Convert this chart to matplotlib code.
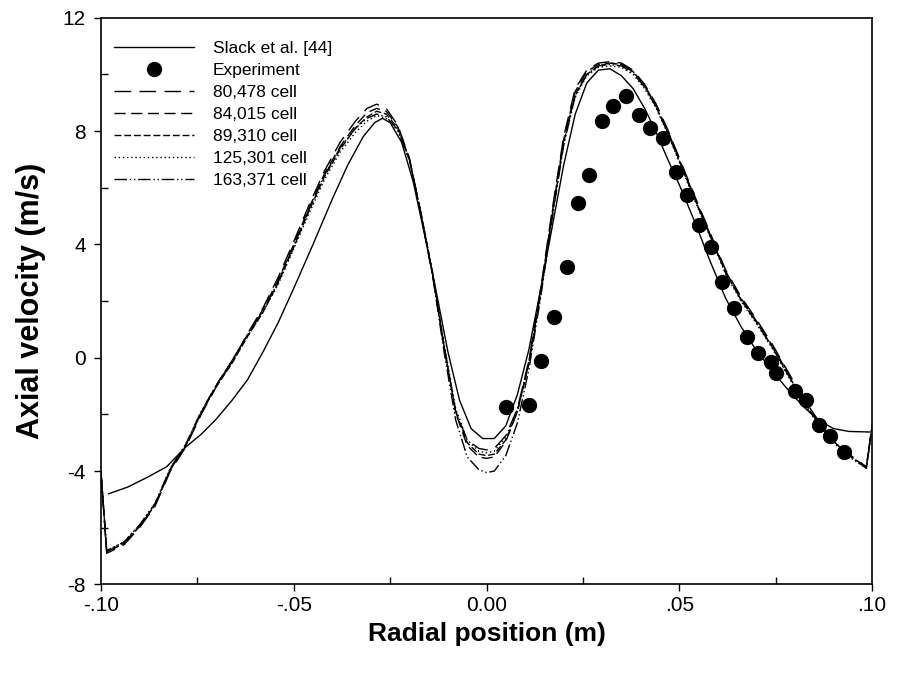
import matplotlib
matplotlib.use("Agg")
import matplotlib.pyplot as plt
from matplotlib.ticker import MultipleLocator, FixedLocator, FixedFormatter

plt.rcParams['font.family'] = ['Liberation Sans', 'DejaVu Sans']
plt.rcParams['axes.unicode_minus'] = False

# Slack et al. [44] reference solution
slack_x = [-0.098, -0.093, -0.088, -0.083, -0.078, -0.074, -0.070, -0.066, -0.062, -0.058,
           -0.054, -0.050, -0.045, -0.040, -0.036, -0.032, -0.029, -0.027, -0.025, -0.022,
           -0.019, -0.016, -0.013, -0.010, -0.007, -0.004, -0.001, 0.002, 0.005, 0.008,
           0.011, 0.014, 0.017, 0.020, 0.023, 0.026, 0.029, 0.032, 0.035, 0.038,
           0.041, 0.044, 0.047, 0.050, 0.054, 0.058, 0.062, 0.066, 0.070, 0.074,
           0.078, 0.082, 0.086, 0.090, 0.094, 0.0995]
slack_y = [-4.8, -4.56, -4.22, -3.85, -3.15, -2.7, -2.15, -1.5, -0.78, 0.2,
           1.25, 2.45, 4.0, 5.6, 6.8, 7.8, 8.3, 8.45, 8.3, 7.6,
           6.2, 4.3, 2.3, 0.2, -1.5, -2.5, -2.85, -2.85, -2.4, -1.3,
           0.3, 2.4, 4.6, 6.8, 8.6, 9.7, 10.15, 10.2, 9.95, 9.5,
           8.8, 7.95, 7.0, 6.1, 4.8, 3.4, 2.1, 1.1, 0.25, -0.45,
           -1.1, -1.7, -2.2, -2.5, -2.6, -2.62]

# Experiment
exp_x = [0.0051, 0.0110, 0.0141, 0.0175, 0.0208, 0.0236, 0.0266, 0.0300, 0.0329, 0.0361,
         0.0395, 0.0424, 0.0457, 0.0492, 0.0519, 0.0551, 0.0583, 0.0611, 0.0643, 0.0675,
         0.0705, 0.0737, 0.0750, 0.0800, 0.0829, 0.0861, 0.0891, 0.0928]
exp_y = [-1.73, -1.66, -0.1, 1.44, 3.2, 5.45, 6.44, 8.35, 8.87, 9.25,
         8.58, 8.10, 7.74, 6.55, 5.73, 4.69, 3.91, 2.67, 1.74, 0.72,
         0.17, -0.14, -0.54, -1.16, -1.49, -2.37, -2.76, -3.34]

# CFD meshes (common radial positions)
cfd_x = [-0.100, -0.0985, -0.094, -0.090, -0.086, -0.082, -0.078, -0.074, -0.070, -0.066,
         -0.062, -0.058, -0.054, -0.050, -0.046, -0.042, -0.038, -0.034, -0.031, -0.0285,
         -0.026, -0.023, -0.020, -0.017, -0.014, -0.011, -0.008, -0.005, -0.002, 0.000,
         0.002, 0.005, 0.008, 0.011, 0.014, 0.017, 0.020, 0.023, 0.026, 0.029,
         0.032, 0.035, 0.038, 0.041, 0.044, 0.047, 0.050, 0.054, 0.058, 0.062,
         0.066, 0.070, 0.074, 0.078, 0.082, 0.086, 0.090, 0.094, 0.0985, 0.100]
cell_80478 = [-4.0, -6.9, -6.6, -6.0, -5.25, -4.0, -3.15, -2.0, -1.0, -0.15,
              0.85, 1.75, 2.85, 4.1, 5.4, 6.6, 7.6, 8.35, 8.8, 8.95,
              8.8, 8.2, 7.05, 5.1, 2.95, 0.35, -1.9, -2.9, -3.2, -3.25,
              -3.2, -2.75, -1.8, -0.1, 2.4, 5.2, 7.8, 9.5, 10.15, 10.4,
              10.45, 10.4, 10.15, 9.65, 8.95, 8.05, 7.05, 5.7, 4.4, 3.1,
              2.15, 1.35, 0.5, -0.45, -1.4, -2.2, -2.9, -3.4, -3.85, -2.35]
cell_84015 = [-4.0, -6.85, -6.55, -5.95, -5.2, -3.95, -3.1, -1.95, -0.95, -0.1,
              0.8, 1.7, 2.75, 4.0, 5.3, 6.5, 7.45, 8.2, 8.65, 8.8,
              8.7, 8.15, 7.0, 5.05, 2.95, 0.4, -1.95, -3.1, -3.5, -3.55,
              -3.5, -2.95, -1.9, -0.15, 2.3, 5.1, 7.7, 9.4, 10.1, 10.35,
              10.4, 10.35, 10.1, 9.6, 8.9, 8.0, 7.0, 5.65, 4.35, 3.05,
              2.1, 1.3, 0.45, -0.5, -1.45, -2.25, -2.95, -3.45, -3.85, -2.4]
cell_89310 = [-4.0, -6.85, -6.55, -5.95, -5.2, -3.95, -3.1, -1.95, -1.0, -0.2,
              0.75, 1.6, 2.65, 3.9, 5.2, 6.4, 7.35, 8.1, 8.5, 8.7,
              8.6, 8.1, 7.0, 5.1, 3.0, 0.4, -1.9, -3.0, -3.4, -3.45,
              -3.4, -2.9, -1.9, -0.2, 2.2, 5.0, 7.6, 9.3, 10.0, 10.3,
              10.4, 10.35, 10.1, 9.6, 8.85, 7.95, 6.95, 5.6, 4.3, 3.0,
              2.05, 1.25, 0.4, -0.55, -1.5, -2.3, -2.95, -3.45, -3.85, -2.4]
cell_125301 = [-4.0, -6.8, -6.5, -5.9, -5.15, -3.9, -3.05, -1.9, -0.95, -0.15,
               0.75, 1.6, 2.6, 3.85, 5.1, 6.3, 7.25, 7.95, 8.35, 8.55,
               8.45, 8.0, 6.95, 5.1, 3.05, 0.5, -1.8, -2.9, -3.3, -3.35,
               -3.3, -2.8, -1.8, -0.1, 2.25, 5.0, 7.55, 9.2, 9.95, 10.25,
               10.3, 10.25, 10.0, 9.5, 8.8, 7.9, 6.9, 5.55, 4.25, 2.95,
               2.0, 1.2, 0.35, -0.6, -1.55, -2.35, -3.0, -3.5, -3.9, -2.45]
cell_163371 = [-4.0, -6.8, -6.5, -5.9, -5.15, -3.9, -3.05, -1.9, -0.95, -0.1,
               0.8, 1.65, 2.7, 3.95, 5.25, 6.45, 7.4, 8.1, 8.45, 8.6,
               8.5, 8.05, 7.0, 5.05, 2.9, 0.2, -2.2, -3.5, -3.95, -4.05,
               -4.0, -3.45, -2.3, -0.4, 2.1, 4.9, 7.5, 9.25, 10.0, 10.3,
               10.35, 10.3, 10.05, 9.55, 8.85, 7.95, 6.95, 5.6, 4.3, 3.0,
               2.05, 1.25, 0.4, -0.55, -1.5, -2.3, -2.95, -3.45, -3.9, -2.4]

x_ticks = [-0.10, -0.05, 0.00, 0.05, 0.10]
x_tick_labels = ['-.10', '-.05', '0.00', '.05', '.10']
y_ticks = [-8, -4, 0, 4, 8, 12]

fig = plt.figure(figsize=(9.01, 6.82), dpi=100)
ax = fig.add_axes([0.112, 0.143, 0.856, 0.831])

lw = 1.0
ax.plot(slack_x, slack_y, color='black', lw=lw, label='Slack et al. [44]')
ax.plot(exp_x, exp_y, 'o', color='black', ms=10, label='Experiment')
ax.plot(cfd_x, cell_80478, color='black', lw=lw, dashes=(12, 6), label='80,478 cell')
ax.plot(cfd_x, cell_84015, color='black', lw=lw, dashes=(8, 4), label='84,015 cell')
ax.plot(cfd_x, cell_89310, color='black', lw=lw, dashes=(5, 2), label='89,310 cell')
ax.plot(cfd_x, cell_125301, color='black', lw=lw, dashes=(1, 2), label='125,301 cell')
ax.plot(cfd_x, cell_163371, color='black', lw=lw, dashes=(9, 2, 1, 2, 1, 2),
        label='163,371 cell')

ax.set_xlim(-0.1, 0.1)
ax.set_ylim(-8, 12)
ax.xaxis.set_major_locator(FixedLocator(x_ticks))
ax.xaxis.set_major_formatter(FixedFormatter(x_tick_labels))
ax.xaxis.set_minor_locator(MultipleLocator(0.025))
ax.yaxis.set_major_locator(FixedLocator(y_ticks))
ax.yaxis.set_minor_locator(MultipleLocator(2))
ax.tick_params(which='major', direction='out', length=5, width=1, labelsize=15)
ax.tick_params(axis='y', which='major', pad=6)
ax.tick_params(which='minor', direction='in', length=5, width=1)
for s in ax.spines.values():
    s.set_linewidth(1.2)

ax.set_xlabel('Radial position (m)', fontsize=19, fontweight='bold', labelpad=5)
ax.set_ylabel('Axial velocity (m/s)', fontsize=22, fontweight='bold', labelpad=12)

ax.legend(loc='upper left', bbox_to_anchor=(0.008, 0.972), frameon=False, fontsize=12.5,
          handlelength=4.6, handletextpad=1.1, labelspacing=0.4, borderaxespad=0,
          numpoints=1)

fig.savefig('out.png', dpi=100)
